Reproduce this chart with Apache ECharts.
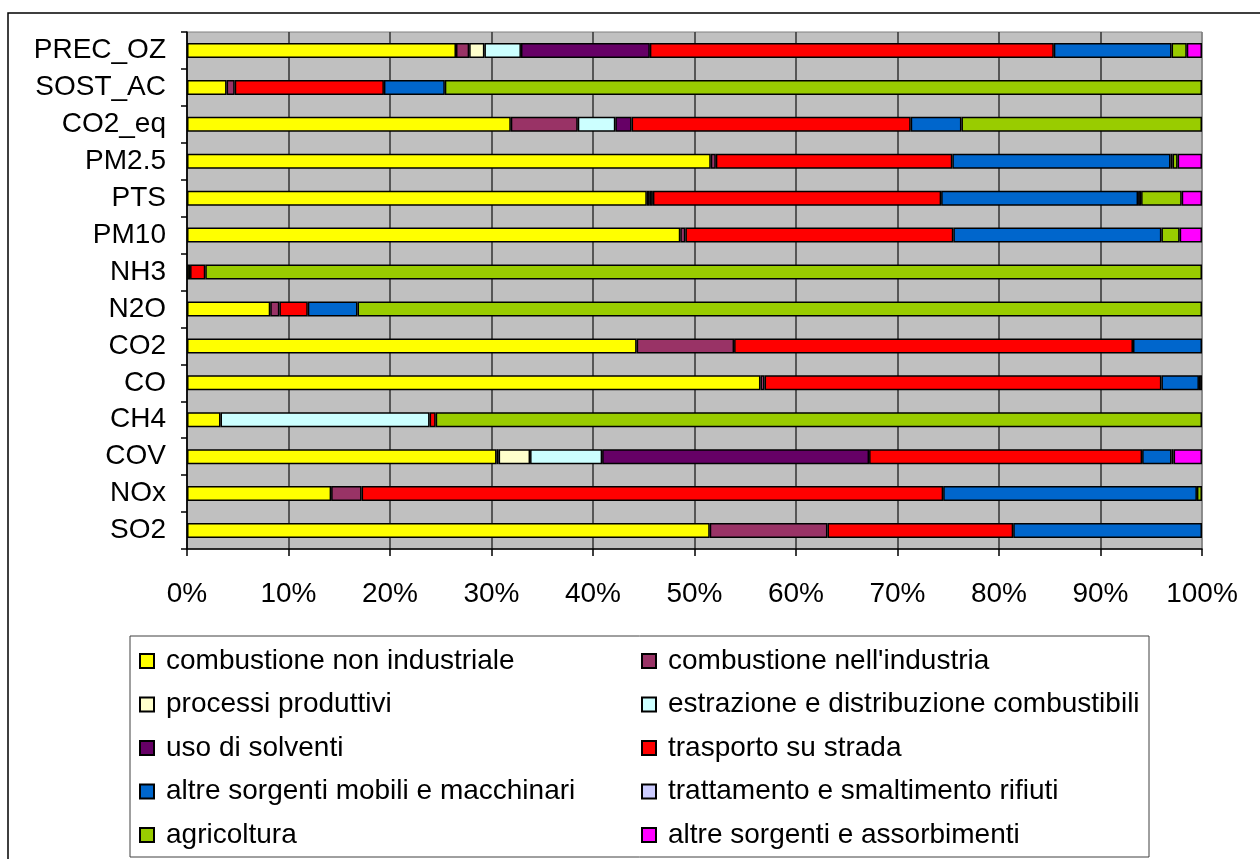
<!DOCTYPE html>
<html>
<head>
<meta charset="utf-8">
<script src="https://cdn.jsdelivr.net/npm/echarts@6/dist/echarts.min.js"></script>
<style>
  html, body { margin: 0; padding: 0; background: #fff; }
  #chart { width: 1260px; height: 859px; }
</style>
</head>
<body>
<div id="chart"></div>
<script>
// inquinanti, dal basso verso l'alto
const categories = ["SO2", "NOx", "COV", "CH4", "CO", "CO2", "N2O", "NH3", "PM10", "PTS", "PM2.5", "CO2_eq", "SOST_AC", "PREC_OZ"];

const sourceNames = [
  "combustione non industriale",
  "combustione nell'industria",
  "processi produttivi",
  "estrazione e distribuzione combustibili",
  "uso di solventi",
  "trasporto su strada",
  "altre sorgenti mobili e macchinari",
  "trattamento e smaltimento rifiuti",
  "agricoltura",
  "altre sorgenti e assorbimenti"
];

// quote percentuali per macrosettore (stesso ordine di categories)
const combNonInd   = [51.5, 14.2, 30.5, 3.3, 56.5, 44.3, 8.2, 0.3, 48.6, 45.3, 51.6, 31.9, 3.9, 26.5];
const combInd      = [11.6, 3.0, 0.2, 0, 0.4, 9.6, 0.9, 0, 0.5, 0.3, 0.5, 6.6, 0.8, 1.3];
const processi     = [0, 0, 3.1, 0, 0, 0, 0, 0, 0, 0.3, 0, 0, 0, 1.5];
const estrazione   = [0, 0, 7.1, 20.6, 0, 0, 0, 0, 0, 0, 0, 3.7, 0, 3.6];
const solventi     = [0, 0, 26.3, 0, 0, 0, 0, 0, 0, 0, 0, 1.6, 0, 12.7];
const trasporto    = [18.3, 57.3, 26.9, 0.6, 39.1, 39.3, 2.8, 1.5, 26.4, 28.4, 23.3, 27.5, 14.7, 39.8];
const altreMobili  = [18.6, 25.0, 2.9, 0, 3.7, 6.8, 4.9, 0, 20.5, 19.4, 21.5, 5.0, 6.0, 11.6];
const rifiuti      = [0, 0, 0.2, 0, 0.3, 0, 0, 0, 0, 0.3, 0.2, 0, 0, 0];
const agricoltura  = [0, 0.5, 0, 75.5, 0, 0, 83.2, 98.2, 1.8, 4.0, 0.5, 23.7, 74.6, 1.5];
const assorbimenti = [0, 0, 2.8, 0, 0, 0, 0, 0, 2.2, 2.0, 2.4, 0, 0, 1.5];

const xTicks = [0, 10, 20, 30, 40, 50, 60, 70, 80, 90, 100];

const sourceData = [combNonInd, combInd, processi, estrazione, solventi, trasporto, altreMobili, rifiuti, agricoltura, assorbimenti];
const colors = ["#FFFF00", "#993366", "#FFFFCC", "#CCFFFF", "#660066", "#FF0000", "#0066CC", "#CCCCFF", "#99CC00", "#FF00FF"];

const font = "Liberation Sans, Arial, sans-serif";

const chart = echarts.init(document.getElementById("chart"), null, { renderer: "canvas" });

function legendCol(left, names) {
  return {
    orient: "vertical",
    left: left,
    top: 647,
    height: 212,
    padding: 0,
    itemWidth: 14,
    itemHeight: 14,
    itemGap: 15.5,
    selectedMode: false,
    icon: "rect",
    textStyle: { fontSize: 28, fontFamily: font, color: "#000", padding: [0, 0, 0, 7] },
    data: names
  };
}

let option = {
  animation: false,
  backgroundColor: "#fff",
  textStyle: { fontFamily: font, color: "#000" },
  grid: {
    left: 187,
    right: 58,
    top: 32,
    bottom: 310,
    show: true,
    backgroundColor: "#C0C0C0",
    borderColor: "#808080",
    borderWidth: 1
  },
  xAxis: {
    type: "value",
    min: xTicks[0],
    max: xTicks[xTicks.length - 1],
    interval: 10,
    axisLine: { show: true, lineStyle: { color: "#000", width: 1.5 } },
    axisTick: { show: true, length: 7, lineStyle: { color: "#000", width: 1.5 } },
    axisLabel: {
      formatter: "{value}%",
      fontSize: 28,
      fontFamily: font,
      color: "#000",
      margin: 31
    },
    splitLine: {
      show: true,
      lineStyle: {
        color: ["#333", "#333", "#333", "#333", "#333", "#333", "#333", "#333", "#333", "#333", "#808080"],
        width: 1.5
      }
    }
  },
  yAxis: {
    type: "category",
    data: categories,
    axisLine: { show: true, lineStyle: { color: "#000", width: 1.5 } },
    axisTick: { show: true, length: 6, lineStyle: { color: "#000", width: 1.5 } },
    axisLabel: {
      fontSize: 28,
      fontFamily: font,
      color: "#000",
      margin: 21
    },
    splitLine: { show: false }
  },
  legend: [
    legendCol(139, sourceNames.filter((n, i) => i % 2 === 0)),
    legendCol(641, sourceNames.filter((n, i) => i % 2 === 1))
  ],
  graphic: [
    {
      type: "rect",
      shape: { x: 8, y: 13, width: 1300, height: 900 },
      style: { fill: "none", stroke: "#000", lineWidth: 1.5 },
      silent: true
    },
    {
      type: "rect",
      shape: { x: 130, y: 636, width: 1019, height: 221 },
      style: { fill: "none", stroke: "#404040", lineWidth: 1 },
      silent: true
    }
  ]
};

option.series = sourceData.map((arr, i) => {
  return {
    name: sourceNames[i],
    type: "bar",
    stack: "totale",
    barWidth: 15,
    itemStyle: {
      color: colors[i],
      borderColor: "#000",
      borderWidth: 1.5
    },
    // i settori assenti non vanno disegnati
    data: arr.map(v => (v > 0 ? v : null))
  };
});

chart.setOption(option);
</script>
</body>
</html>
